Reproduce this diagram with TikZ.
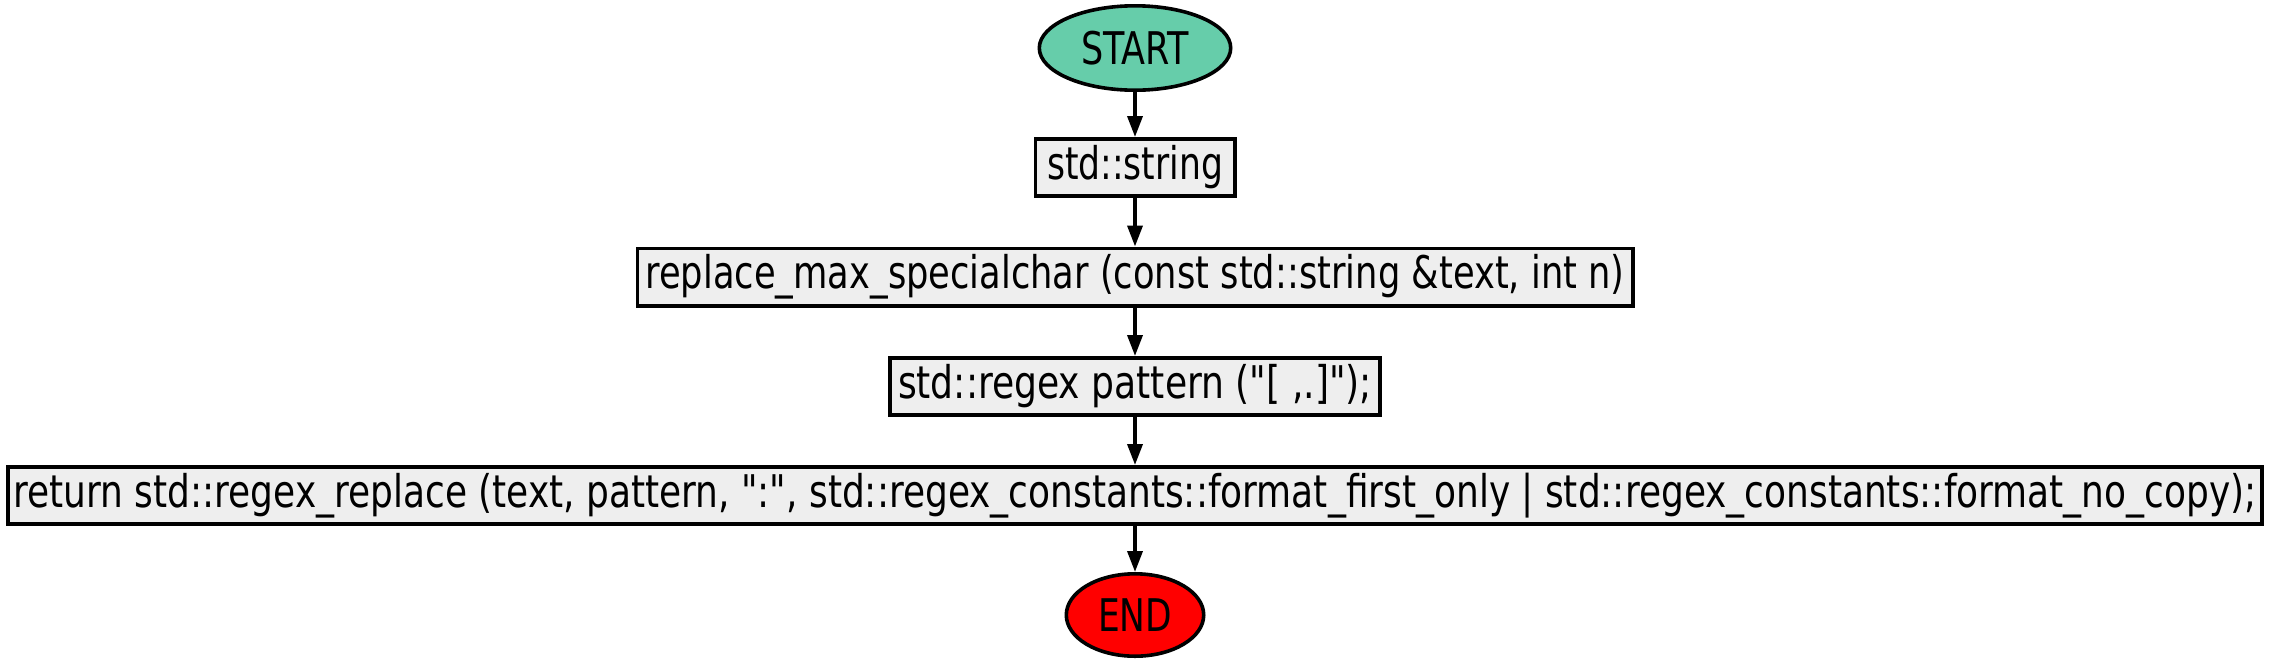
\documentclass[tikz,border=0pt]{standalone}
\usepackage{fontspec}
\setmainfont{DejaVu Sans}[Ligatures=TeXOff]
\usepackage{graphicx}
\usetikzlibrary{shapes.geometric,arrows.meta}
\definecolor{startc}{RGB}{102,205,170}
\definecolor{boxc}{RGB}{238,238,238}
\newcommand\fitw[2]{\resizebox{#1}{\height}{#2}}
\newcommand\dq{\char34\relax}
\begin{document}
\begin{tikzpicture}[x=0.5pt,y=-0.5pt,
  every node/.style={font=\fontsize{22.5}{26}\selectfont, inner sep=0pt, line width=1.8pt, draw=black},
  term/.style={ellipse},
  proc/.style={rectangle, fill=boxc, minimum height=28.7pt},
  arr/.style={line width=1.8pt, -{Triangle[length=10.5pt,width=7.5pt]}}]
\useasboundingbox (0,0) rectangle (2270,665);
\node[term, fill=startc, minimum width=95.7pt, minimum height=42.2pt] (start) at (1135,48) {\fitw{54pt}{START}};
\node[proc, minimum width=99.7pt] (str) at (1135,167.5) {\fitw{88pt}{std::string}};
\node[proc, minimum width=497.7pt] (fn) at (1135,277) {\fitw{489.5pt}{replace\_max\_specialchar (const std::string \&text, int n)}};
\node[proc, minimum width=245.2pt] (pat) at (1135,386.5) {\fitw{237pt}{std::regex pattern (\dq[ ,.]\dq);}};
\node[proc, minimum width=1127.2pt] (ret) at (1135,495.5) {\fitw{1121.5pt}{return std::regex\_replace (text, pattern, \dq:\dq, std::regex\_constants::format\_first\_only | std::regex\_constants::format\_no\_copy);}};
\node[term, fill=red, minimum width=68.7pt, minimum height=41.2pt] (end) at (1135,615) {\fitw{37pt}{END}};
\draw[arr] (start) -- (str);
\draw[arr] (str) -- (fn);
\draw[arr] (fn) -- (pat);
\draw[arr] (pat) -- (ret);
\draw[arr] (ret) -- (end);
\end{tikzpicture}
\end{document}
